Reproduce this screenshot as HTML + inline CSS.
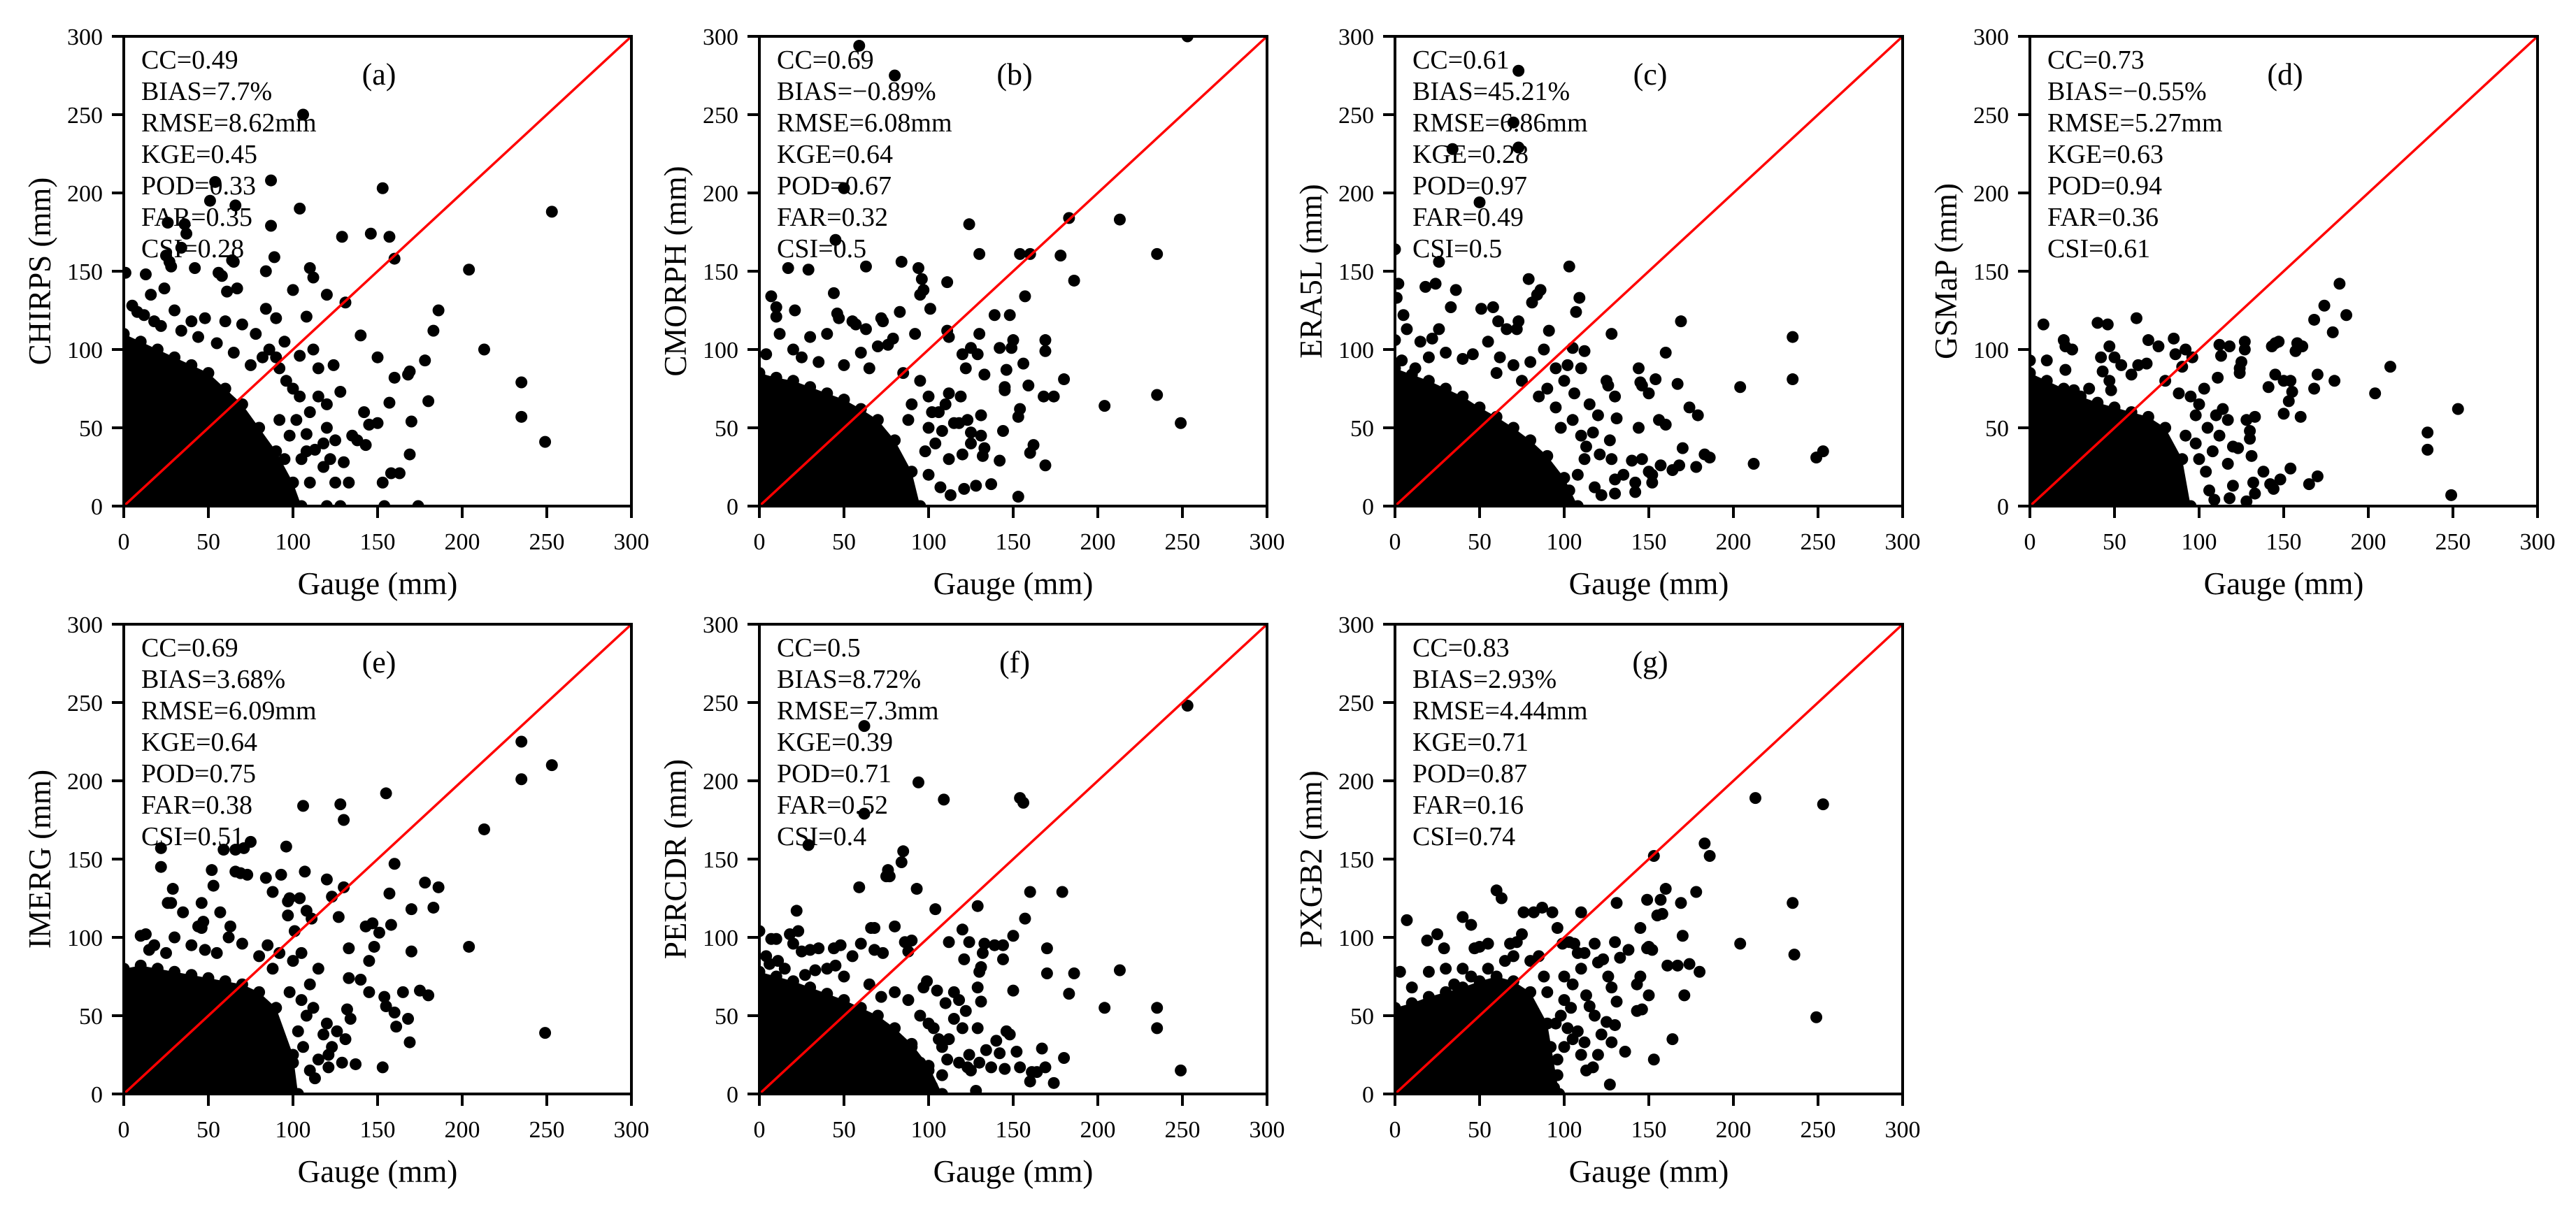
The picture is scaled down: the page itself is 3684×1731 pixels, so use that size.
<!DOCTYPE html>
<html><head><meta charset="utf-8"><style>
html,body{margin:0;padding:0;background:#fff}
svg{display:block}
text{font-family:"Liberation Serif","DejaVu Serif",serif;fill:#000}
</style></head><body>
<svg id="fig" width="3684" height="1731" viewBox="0 0 3684 1731" xmlns="http://www.w3.org/2000/svg"></svg>
<script>
const panelNames = ["CHIRPS","CMORPH","ERA5L","GSMaP","IMERG","PERCDR","PXGB2"];
const panelTags = ["(a)","(b)","(c)","(d)","(e)","(f)","(g)"];
const statsA = ["CC=0.49","BIAS=7.7%","RMSE=8.62mm","KGE=0.45","POD=0.33","FAR=0.35","CSI=0.28"];
const statsB = ["CC=0.69","BIAS=\u22120.89%","RMSE=6.08mm","KGE=0.64","POD=0.67","FAR=0.32","CSI=0.5"];
const statsC = ["CC=0.61","BIAS=45.21%","RMSE=6.86mm","KGE=0.28","POD=0.97","FAR=0.49","CSI=0.5"];
const statsD = ["CC=0.73","BIAS=\u22120.55%","RMSE=5.27mm","KGE=0.63","POD=0.94","FAR=0.36","CSI=0.61"];
const statsE = ["CC=0.69","BIAS=3.68%","RMSE=6.09mm","KGE=0.64","POD=0.75","FAR=0.38","CSI=0.51"];
const statsF = ["CC=0.5","BIAS=8.72%","RMSE=7.3mm","KGE=0.39","POD=0.71","FAR=0.52","CSI=0.4"];
const statsG = ["CC=0.83","BIAS=2.93%","RMSE=4.44mm","KGE=0.71","POD=0.87","FAR=0.16","CSI=0.74"];
const tickValues = [0,50,100,150,200,250,300];
// dense core envelope (gauge x, max product y)
const coreXA=[0,10,20,30,40,50,60,70,80,90,100,105]; const coreYA=[110,105,100,95,90,85,75,65,50,35,15,0];
const coreXB=[0,10,20,30,40,50,60,70,80,90,95]; const coreYB=[85,82,80,76,72,68,62,55,42,22,0];
const coreXC=[0,10,20,30,40,50,60,70,80,90,100,108]; const coreYC=[88,84,80,75,70,63,57,50,42,32,18,0];
const coreXD=[0,10,20,30,40,50,60,70,80,90,95]; const coreYD=[85,80,75,70,66,63,60,57,50,30,0];
const coreXE=[0,10,20,30,40,50,60,70,80,90,100,103]; const coreYE=[80,82,80,78,76,74,72,70,65,55,25,0];
const coreXF=[0,10,20,30,40,50,60,70,80,90,100,108]; const coreYF=[78,75,72,68,64,60,55,50,42,32,18,0];
const coreXG=[0,10,20,30,40,50,60,70,80,90,97]; const coreYG=[55,58,62,65,68,72,75,72,65,45,0];
// scattered points [gauge, product]
const ptsA=[[1,149],[13,148],[16,135],[24,139],[25,160],[26,181],[27,156],[28,153],[34,165],[36,180],[37,174],[42,152],[51,195],[54,207],[56,149],[58,147],[61,137],[64,157],[65,156],[66,192],[67,139],[84,150],[84,126],[87,179],[87,208],[89,159],[100,138],[104,190],[106,250],[108,121],[110,152],[112,146],[120,135],[124,90],[129,172],[131,130],[140,109],[146,174],[150,95],[153,203],[157,172],[160,158],[160,82],[168,84],[169,86],[170,54],[178,93],[180,67],[183,112],[186,125],[204,151],[213,100],[235,79],[235,57],[249,41],[253,188],[157,66],[153,15],[150,53],[142,60],[145,52],[143,39],[133,15],[130,28],[128,73],[125,42],[118,25],[112,100],[115,88],[113,36],[108,46],[104,96],[95,105],[100,75],[102,55],[120,50],[90,120],[158,21],[163,21],[169,33],[135,45],[138,42],[125,15],[110,15],[100,15],[95,30],[92,55],[98,45],[105,30],[5,128],[8,124],[18,118],[30,125],[40,118],[48,120],[60,118],[70,116],[78,110],[86,100],[90,95],[154,0],[174,0],[120,0],[128,0],[110,60],[115,70],[120,65],[118,40],[122,30],[108,35],[104,70],[96,80],[92,88],[82,95],[75,90],[65,98],[12,122],[22,115],[34,112],[44,108],[55,104]];
const ptsB=[[59,294],[80,275],[50,203],[45,170],[17,152],[29,151],[63,153],[84,156],[94,152],[96,145],[97,138],[95,135],[101,126],[111,143],[124,180],[130,161],[154,161],[160,161],[178,160],[183,184],[213,183],[235,161],[186,144],[157,134],[148,122],[139,122],[130,110],[142,101],[149,101],[150,106],[169,106],[169,99],[156,91],[146,87],[133,84],[145,76],[145,74],[159,77],[180,81],[174,70],[168,70],[235,71],[204,64],[249,53],[154,62],[153,57],[144,48],[162,39],[160,34],[142,29],[169,26],[137,14],[153,6],[128,13],[121,11],[113,7],[100,20],[107,12],[112,30],[120,33],[125,40],[131,45],[133,37],[132,32],[7,134],[10,127],[10,121],[21,125],[44,136],[46,123],[47,120],[55,118],[57,116],[63,113],[72,120],[73,118],[76,103],[79,107],[83,124],[92,110],[111,112],[112,108],[125,101],[120,97],[129,97],[122,88],[119,70],[112,72],[110,65],[106,60],[115,53],[118,53],[123,55],[125,47],[131,58],[253,300],[4,97],[12,110],[20,100],[30,108],[40,110],[60,98],[70,102],[85,85],[95,80],[100,70],[100,50],[104,40],[98,35],[108,48],[102,60],[90,65],[88,55],[25,95],[35,92],[50,90],[65,88]];
const ptsC=[[0,164],[73,278],[70,245],[34,228],[73,229],[50,194],[26,156],[2,142],[18,140],[24,142],[36,138],[1,133],[5,122],[7,113],[15,105],[22,107],[26,113],[33,127],[51,126],[58,127],[61,118],[66,113],[72,113],[73,118],[79,145],[81,130],[84,135],[86,138],[91,112],[88,100],[103,153],[107,124],[109,133],[112,99],[105,101],[128,110],[169,118],[235,108],[235,81],[204,76],[167,78],[160,98],[154,81],[150,72],[144,88],[145,79],[146,77],[144,50],[156,55],[160,52],[170,37],[174,63],[179,58],[183,33],[186,31],[168,26],[178,25],[157,26],[164,23],[152,20],[150,22],[152,15],[146,30],[140,29],[142,9],[142,15],[135,20],[130,17],[130,8],[127,42],[128,30],[121,33],[122,7],[125,80],[126,77],[130,70],[131,56],[115,65],[110,88],[100,80],[95,63],[212,27],[249,31],[253,35],[120,58],[117,47],[118,12],[112,30],[108,20],[103,10],[0,106],[4,93],[12,88],[30,98],[40,94],[46,97],[55,105],[62,95],[70,90],[80,92],[90,75],[98,50],[105,55],[110,45],[113,38],[106,72],[102,90],[85,70],[95,88],[20,95],[60,85],[75,80]];
const ptsD=[[8,116],[40,117],[46,116],[63,120],[20,106],[21,102],[25,100],[0,93],[10,93],[21,87],[42,95],[47,102],[50,95],[54,90],[70,106],[76,102],[85,107],[86,97],[92,100],[96,95],[90,89],[60,84],[64,90],[69,91],[43,86],[47,80],[35,75],[26,74],[48,74],[80,80],[112,103],[118,102],[127,105],[127,100],[113,96],[124,85],[124,88],[125,92],[111,82],[141,76],[143,102],[145,104],[147,105],[145,84],[150,80],[154,80],[157,99],[158,104],[161,102],[155,73],[153,67],[150,59],[160,57],[170,84],[168,75],[168,119],[174,128],[183,142],[179,111],[187,122],[180,80],[204,72],[213,89],[235,47],[235,36],[249,7],[253,62],[165,14],[170,19],[154,24],[148,17],[142,14],[144,11],[138,22],[133,8],[128,3],[132,15],[131,32],[130,43],[130,48],[128,55],[133,57],[120,38],[123,37],[117,27],[120,13],[118,5],[109,4],[106,10],[114,62],[117,55],[110,58],[95,70],[100,65],[105,50],[98,40],[100,30],[104,22],[108,35],[112,45],[103,75],[98,58],[92,45],[88,72]];
const ptsE=[[22,157],[22,145],[29,131],[26,122],[28,122],[35,116],[46,122],[44,107],[47,110],[46,106],[52,143],[53,133],[57,116],[59,156],[63,107],[66,156],[66,142],[71,157],[69,141],[73,140],[75,161],[84,138],[88,129],[93,140],[96,158],[98,125],[97,123],[97,114],[101,104],[104,125],[107,142],[108,117],[111,112],[106,184],[120,137],[123,126],[127,113],[128,185],[130,175],[130,132],[133,93],[143,107],[145,85],[147,109],[148,94],[151,103],[155,192],[157,128],[158,108],[160,147],[165,65],[170,91],[170,118],[175,66],[178,135],[180,63],[183,119],[186,132],[204,94],[213,169],[235,225],[235,201],[253,210],[249,39],[160,52],[161,43],[168,48],[169,33],[153,17],[155,56],[154,62],[145,65],[140,73],[133,74],[132,54],[134,48],[131,35],[129,20],[137,19],[121,17],[121,25],[123,30],[126,40],[113,10],[110,15],[115,22],[118,38],[120,45],[112,55],[110,70],[115,80],[105,60],[103,40],[100,20],[95,5],[10,101],[13,102],[15,92],[18,95],[30,100],[40,95],[55,90],[70,96],[80,88],[88,80],[100,85],[105,90],[108,50],[106,30],[98,65],[92,90],[85,95],[62,100],[48,92],[25,90]];
const ptsF=[[62,235],[253,248],[94,199],[109,188],[154,189],[156,186],[62,179],[29,159],[85,155],[84,148],[76,143],[75,139],[77,139],[93,131],[59,132],[160,129],[179,129],[22,117],[104,118],[129,120],[157,112],[0,104],[23,104],[66,106],[68,106],[80,107],[120,105],[7,99],[10,99],[18,102],[112,97],[124,97],[133,96],[150,101],[139,95],[144,95],[170,93],[86,97],[90,98],[88,91],[121,86],[130,78],[131,81],[132,90],[144,86],[170,77],[186,77],[213,79],[183,64],[204,55],[235,55],[235,42],[249,15],[150,66],[129,68],[131,59],[122,53],[118,60],[115,65],[110,58],[105,66],[99,72],[97,68],[103,42],[106,35],[108,30],[111,22],[120,42],[124,25],[123,17],[125,15],[128,2],[129,42],[130,20],[134,28],[137,17],[140,34],[142,26],[146,40],[148,38],[145,16],[152,27],[154,17],[160,8],[161,14],[164,14],[167,29],[169,17],[174,7],[180,23],[100,15],[102,5],[95,20],[90,30],[4,88],[6,83],[11,85],[15,80],[27,76],[33,79],[40,80],[45,82],[50,75],[55,88],[44,93],[48,95],[35,93],[30,92],[25,91],[20,96],[68,92],[73,90],[60,96],[80,65],[88,60],[95,50],[100,45],[112,35],[115,48],[108,12],[118,20],[65,70],[72,62]];
const ptsG=[[7,111],[3,78],[19,98],[25,102],[29,93],[40,113],[45,108],[47,93],[50,94],[55,96],[60,130],[63,125],[68,96],[72,97],[75,102],[76,116],[82,116],[87,119],[93,116],[96,106],[99,96],[103,97],[106,96],[108,90],[110,116],[112,90],[118,96],[120,84],[123,86],[130,97],[131,122],[133,87],[138,92],[143,70],[145,75],[145,106],[149,124],[149,93],[150,94],[152,92],[153,152],[155,114],[157,124],[158,115],[160,131],[161,82],[167,82],[169,122],[170,101],[171,63],[174,83],[178,129],[180,78],[183,160],[186,152],[204,96],[213,189],[235,122],[236,89],[249,49],[253,185],[164,35],[153,22],[150,63],[143,53],[146,54],[136,27],[131,59],[128,33],[127,6],[125,46],[122,38],[120,25],[117,17],[113,15],[112,33],[110,25],[105,35],[100,30],[96,12],[94,4],[84,5],[130,44],[128,68],[126,75],[118,50],[115,56],[113,63],[108,40],[104,55],[100,60],[95,45],[90,65],[10,68],[20,78],[30,80],[35,70],[55,80],[65,85],[80,85],[88,75],[100,75],[105,70],[110,80],[98,50],[102,42],[92,30],[96,22],[85,88],[70,88],[45,75],[40,80]];

const stats=[statsA,statsB,statsC,statsD,statsE,statsF,statsG];
const coreX=[coreXA,coreXB,coreXC,coreXD,coreXE,coreXF,coreXG];
const coreY=[coreYA,coreYB,coreYC,coreYD,coreYE,coreYF,coreYG];
const pts=[ptsA,ptsB,ptsC,ptsD,ptsE,ptsF,ptsG];

const NS="http://www.w3.org/2000/svg";
const svg=document.getElementById('fig');
const colLeft=[177,1086,1995,2903], rowTop=[52,893], W=726, H=672, MAX=300;
function mk(tag,attrs,parent){const e=document.createElementNS(NS,tag);for(const k in attrs)e.setAttribute(k,attrs[k]);parent.appendChild(e);return e;}

panelNames.forEach((name,i)=>{
  const ox=colLeft[i%4], oy=rowTop[Math.floor(i/4)];
  const sx=v=>ox+v/MAX*W, sy=v=>oy+H-v/MAX*H;
  const g=mk('g',{},svg);
  
  
  const clipId='clip'+i;
  const cp=mk('clipPath',{id:clipId},g); mk('rect',{x:ox,y:oy,width:W,height:H},cp);
  const data=mk('g',{'clip-path':'url(#'+clipId+')'},g);
  
  
  let d='M'+sx(0)+','+sy(0);
  coreX[i].forEach((x,k)=>{d+=' L'+sx(x)+','+sy(coreY[i][k]);});
  d+=' L'+sx(coreX[i][coreX[i].length-1])+','+sy(0)+' Z';
  const core=mk('path',{d:d,fill:'#000'},data);
  
  
  coreX[i].forEach((x,k)=>{
    const c=mk('circle',{cx:sx(x),cy:sy(coreY[i][k]),r:8.5,fill:'#000'},data);
    
    
  });
  pts[i].forEach(p=>{
    const c=mk('circle',{cx:sx(p[0]),cy:sy(p[1]),r:8.5,fill:'#000'},data);
    
    
  });
  const ln=mk('line',{x1:sx(0),y1:sy(0),x2:sx(MAX),y2:sy(MAX),stroke:'#ff0000','stroke-width':3.5},g);
  
  
  const fr=mk('rect',{x:ox,y:oy,width:W,height:H,fill:'none',stroke:'#000','stroke-width':4},g);
  
  
  tickValues.forEach(v=>{
    mk('line',{x1:sx(v),y1:oy+H,x2:sx(v),y2:oy+H+17,stroke:'#000','stroke-width':4},g);
    const tx=mk('text',{x:sx(v),y:oy+H+62,'font-size':34,'text-anchor':'middle'},g);
    tx.textContent=v;
    
    
    mk('line',{x1:ox-17,y1:sy(v),x2:ox,y2:sy(v),stroke:'#000','stroke-width':4},g);
    const ty=mk('text',{x:ox-30,y:sy(v)+12,'font-size':34,'text-anchor':'end'},g);
    ty.textContent=v;
    
    
  });
  const xt=mk('text',{x:ox+W/2,y:oy+H+126,'font-size':45,'text-anchor':'middle'},g);
  xt.textContent='Gauge (mm)';
  
  
  const yt=mk('text',{x:0,y:0,'font-size':45,'text-anchor':'middle',transform:'translate('+(ox-105)+','+(oy+H/2)+') rotate(-90)'},g);
  yt.textContent=name+' (mm)';
  
  
  const pl=mk('text',{x:ox+365,y:oy+69,'font-size':44,'text-anchor':'middle'},g);
  pl.textContent=panelTags[i];
  
  
  stats[i].forEach((s,k)=>{
    const t=mk('text',{x:ox+25,y:oy+46+k*45,'font-size':38},g);
    t.textContent=s;
    
    
  });
});
</script>
</body></html>
